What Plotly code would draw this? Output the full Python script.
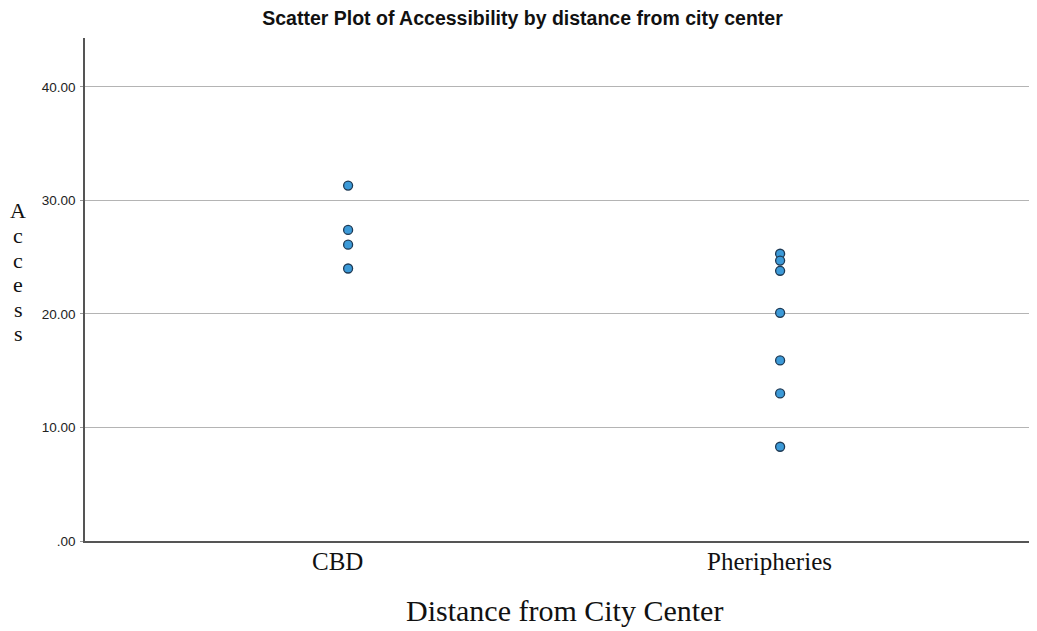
import plotly.graph_objects as go

categories = ["CBD", "Pheripheries"]
cbd_access = [31.3, 27.4, 26.1, 24.0]
peri_access = [25.3, 24.7, 23.8, 20.1, 15.9, 13.0, 8.3]
ytick_vals = [0, 10, 20, 30, 40]
ytick_text = [".00", "10.00", "20.00", "30.00", "40.00"]
ylabel_letters = ["A", "c", "c", "e", "s", "s"]

xs = [0] * len(cbd_access) + [1] * len(peri_access)
ys = cbd_access + peri_access

W, H = 1029, 623
L, R, T, B = 77, 2, 30, 90
plot_h = H - T - B

fig = go.Figure()
fig.add_trace(go.Scatter(
    x=xs, y=ys, mode="markers",
    marker=dict(size=9, color="#3c9ad8", line=dict(color="#1e3a55", width=1.3)),
    showlegend=False, hoverinfo="y",
))

annotations = []
letter_mid_px = [202, 227, 252, 276, 301, 325]
for letter, py in zip(ylabel_letters, letter_mid_px):
    annotations.append(dict(
        text=letter, xref="paper", yref="paper",
        x=(10 - L) / (W - L - R), y=(H - B - py) / plot_h,
        xanchor="center", yanchor="middle", showarrow=False,
        font=dict(family="Liberation Serif, Times New Roman", size=22, color="#111"),
    ))
# category labels (slightly left of the point columns, as in the reference)
for i, cat in enumerate(categories):
    annotations.append(dict(
        text=cat, xref="x", yref="paper", x=i, y=(H - B - 553) / plot_h,
        xshift=-11, xanchor="center", yanchor="middle", showarrow=False,
        font=dict(family="Liberation Serif, Times New Roman", size=25, color="#111"),
    ))
annotations.append(dict(
    text="Distance from City Center", xref="paper", yref="paper",
    x=(556 - L) / (W - L - R), y=(H - B - 602) / plot_h,
    xanchor="center", yanchor="middle", showarrow=False,
    font=dict(family="Liberation Serif, Times New Roman", size=30, color="#111"),
))

fig.update_layout(
    width=W, height=H,
    margin=dict(l=L, r=R, t=T, b=B),
    paper_bgcolor="white", plot_bgcolor="white",
    title=dict(text="<b>Scatter Plot of Accessibility by distance from city center</b>",
               x=0.5, xanchor="center", xref="container", y=1 - 10.5 / H, yanchor="middle",
               font=dict(family="Liberation Sans, Arial", size=19.5, color="#111")),
    xaxis=dict(
        range=[-0.609, 1.59], tickmode="array", tickvals=[0, 1], ticktext=["", ""],
        showgrid=False, zeroline=False, showline=True, linecolor="#555", linewidth=1.5,
        ticks="", fixedrange=True,
    ),
    yaxis=dict(
        range=[0, 44.3], tickmode="array", tickvals=ytick_vals, ticktext=ytick_text,
        showgrid=True, gridcolor="#b4b4b4", gridwidth=1, zeroline=False,
        showline=True, linecolor="#555", linewidth=1.5,
        ticks="outside", ticklen=3, tickcolor="#999", ticklabelstandoff=2,
        tickfont=dict(family="Liberation Sans, Arial", size=13.5, color="#222"),
        fixedrange=True,
    ),
    annotations=annotations,
)

fig.write_html("out.html")
